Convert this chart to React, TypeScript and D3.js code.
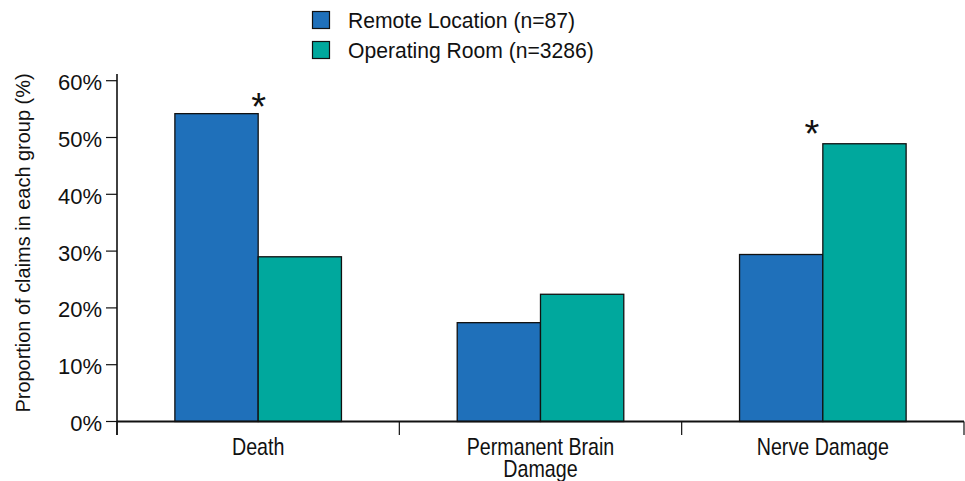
import React from "react";
import * as d3 from "d3";

const categories = ["Death", "Permanent Brain Damage", "Nerve Damage"];
const categoryLines = [["Death"], ["Permanent Brain", "Damage"], ["Nerve Damage"]];
const series = ["Remote Location (n=87)", "Operating Room (n=3286)"];
const remoteValues = [54.2, 17.4, 29.4];
const orValues = [29.0, 22.4, 48.9];
const significantCategories = [0, 2];
const significantSeries = [0, 1];
const yTicks = [0, 10, 20, 30, 40, 50, 60];
const colors = ["#1f70ba", "#00a89d"];

const W = 965;
const H = 481;
const FONT = "'Liberation Sans', Arial, Helvetica, sans-serif";

function T({ x, y, sx = 1, size, anchor = "start", rotate = 0, children }: any) {
  return (
    <text
      transform={`translate(${x},${y}) rotate(${rotate}) scale(${sx},1)`}
      fontSize={size}
      textAnchor={anchor}
      fill="#111"
    >
      {children}
    </text>
  );
}

export default function App() {
  const x0 = 117;
  const x1 = 964;
  const yBase = 421.5;
  const yTop = 80.7;
  const x = d3.scaleBand<string>().domain(categories).range([x0, x1]);
  const y = d3.scaleLinear().domain([0, 60]).range([yBase, yTop]);
  const groupW = x.bandwidth() * 0.59;
  const xs = d3.scaleBand<number>().domain([0, 1]).range([0, groupW]);
  const vals = [remoteValues, orValues];
  const astDx = [0.5, -11];
  const astDy = [-15, -18];

  return (
    <div style={{ position: "fixed", left: 0, top: 0, width: W, height: H, overflow: "hidden" }}>
      <svg width={W} height={H} style={{ display: "block", fontFamily: FONT }}>
        <rect width={W} height={H} fill="#fff" />
        {/* legend */}
        {series.map((s, i) => (
          <g key={s}>
            <rect x={312.5} y={11.5 + i * 30} width={17} height={17} fill={colors[i]} stroke="#111" strokeWidth={1.2} />
            <T x={348} y={28 + i * 30} size={22} sx={0.96}>{s}</T>
          </g>
        ))}
        {/* bars */}
        {categories.map((c, ci) => {
          const gx = (x(c) as number) + (x.bandwidth() - groupW) / 2;
          return (
            <g key={c}>
              {[0, 1].map((si) => (
                <rect
                  key={si}
                  x={gx + (xs(si) as number)}
                  y={y(vals[si][ci])}
                  width={xs.bandwidth()}
                  height={yBase - y(vals[si][ci])}
                  fill={colors[si]}
                  stroke="#111"
                  strokeWidth={1.3}
                />
              ))}
            </g>
          );
        })}
        {/* asterisks */}
        {significantCategories.map((ci, k) => {
          const si = significantSeries[k];
          const cx = (x(categories[ci]) as number) + x.bandwidth() / 2 + astDx[k];
          const cy = y(vals[si][ci]) + astDy[k];
          return (
            <text key={ci} x={cx} y={cy + 21} fontSize={38} textAnchor="middle" fill="#111">
              *
            </text>
          );
        })}
        {/* y axis */}
        <line x1={x0} x2={x0} y1={74} y2={435} stroke="#111" strokeWidth={1.6} />
        {yTicks.map((t) => (
          <g key={t}>
            <line x1={106} x2={x0} y1={y(t)} y2={y(t)} stroke="#111" strokeWidth={1.2} />
            <T x={102} y={y(t) + 9.5} size={22} anchor="end">{t}%</T>
          </g>
        ))}
        {/* x axis */}
        <line x1={x0} x2={x1} y1={yBase} y2={yBase} stroke="#111" strokeWidth={2} />
        {[...categories.map((c) => x(c) as number), x1].map((t, i) => (
          <line key={i} x1={t} x2={t} y1={yBase} y2={435} stroke="#111" strokeWidth={1.2} />
        ))}
        {categories.map((c, ci) =>
          categoryLines[ci].map((l, li) => (
            <T key={c + li} x={(x(c) as number) + x.bandwidth() / 2} y={455 + li * 22} size={24} sx={0.82} anchor="middle">
              {l}
            </T>
          ))
        )}
        {/* y title */}
        <T x={30} y={243} size={21} sx={0.95} rotate={-90} anchor="middle">
          Proportion of claims in each group (%)
        </T>
      </svg>
    </div>
  );
}
